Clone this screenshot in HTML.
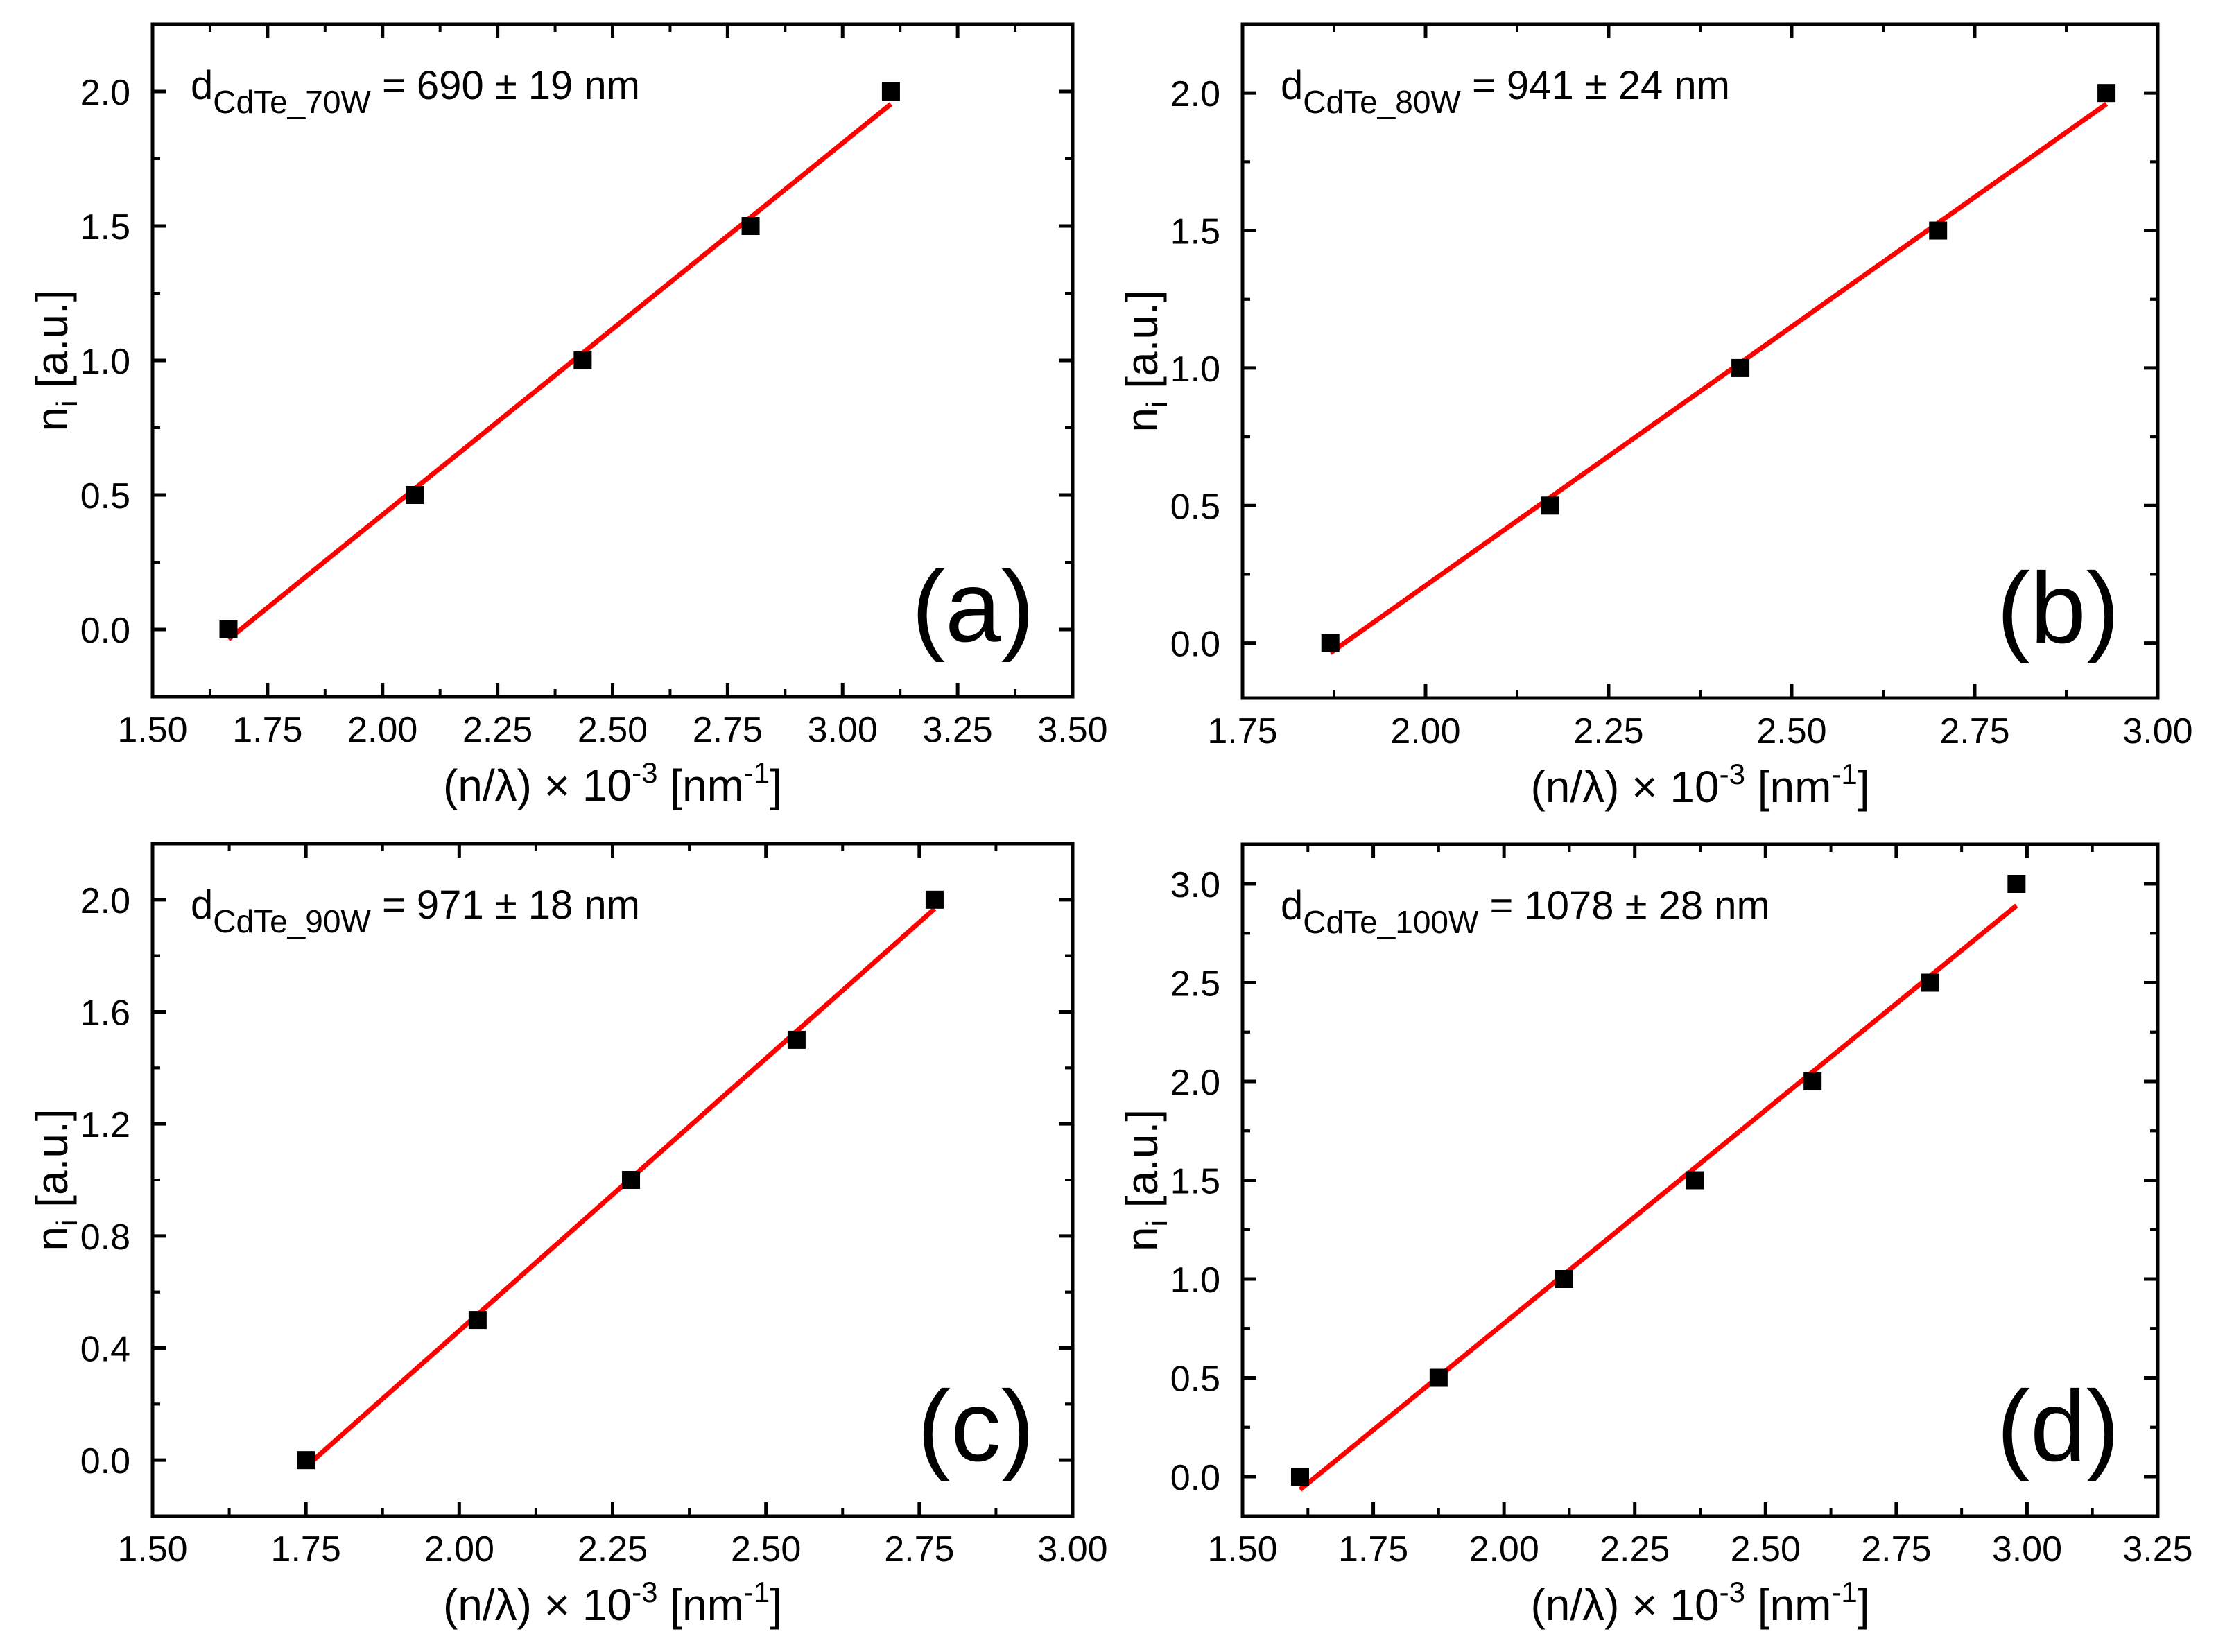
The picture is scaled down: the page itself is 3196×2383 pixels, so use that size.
<!DOCTYPE html>
<html><head><meta charset="utf-8"><style>
html,body{margin:0;padding:0;background:#fff}
svg{display:block}
text{font-family:"Liberation Sans",Arial,sans-serif;fill:#000}
</style></head><body>
<svg id="fig" width="3196" height="2383" viewBox="0 0 3196 2383" xmlns="http://www.w3.org/2000/svg"></svg>
<script>
// Panel data
const xA = [1.665, 2.07, 2.435, 2.80, 3.105];
const yA = [0, 0.5, 1.0, 1.5, 2.0];
const xB = [1.87, 2.17, 2.43, 2.70, 2.93];
const yB = [0, 0.5, 1.0, 1.5, 2.0];
const xC = [1.75, 2.03, 2.28, 2.55, 2.775];
const yC = [0, 0.5, 1.0, 1.5, 2.0];
const xD = [1.61, 1.875, 2.115, 2.365, 2.59, 2.815, 2.98];
const yD = [0, 0.5, 1.0, 1.5, 2.0, 2.5, 3.0];
const xTicksA = ["1.50","1.75","2.00","2.25","2.50","2.75","3.00","3.25","3.50"];
const yTicksA = ["0.0","0.5","1.0","1.5","2.0"];
const xTicksB = ["1.75","2.00","2.25","2.50","2.75","3.00"];
const yTicksB = ["0.0","0.5","1.0","1.5","2.0"];
const xTicksC = ["1.50","1.75","2.00","2.25","2.50","2.75","3.00"];
const yTicksC = ["0.0","0.4","0.8","1.2","1.6","2.0"];
const xTicksD = ["1.50","1.75","2.00","2.25","2.50","2.75","3.00","3.25"];
const yTicksD = ["0.0","0.5","1.0","1.5","2.0","2.5","3.0"];

const NS = "http://www.w3.org/2000/svg";
const svg = document.getElementById('fig');
function mk(tag, attrs, parent){
  const e = document.createElementNS(NS, tag);
  for (const k in attrs) e.setAttribute(k, attrs[k]);
  (parent||svg).appendChild(e);
  return e;
}
function linfit(xs, ys){
  const n = xs.length; let sx=0, sy=0, sxx=0, sxy=0;
  for (let i=0;i<n;i++){sx+=xs[i];sy+=ys[i];sxx+=xs[i]*xs[i];sxy+=xs[i]*ys[i];}
  const m=(n*sxy-sx*sy)/(n*sxx-sx*sx); return {m:m, b:(sy-m*sx)/n};
}
const panels = [
 {id:'a', L:220, R:1547, T:35, B:1005, xmin:1.5, xmax:3.5, ymin:-0.25, ymax:2.25, xs:xA, ys:yA, xt:xTicksA, yt:yTicksA, ymajor:0.5, label:'(a)', sub:'CdTe_70W', val:' = 690 ± 19 nm'},
 {id:'b', L:1792, R:3112, T:35, B:1007, xmin:1.75, xmax:3.0, ymin:-0.2, ymax:2.25, xs:xB, ys:yB, xt:xTicksB, yt:yTicksB, ymajor:0.5, label:'(b)', sub:'CdTe_80W', val:' = 941 ± 24 nm'},
 {id:'c', L:220, R:1547, T:1217, B:2187, xmin:1.5, xmax:3.0, ymin:-0.2, ymax:2.2, xs:xC, ys:yC, xt:xTicksC, yt:yTicksC, ymajor:0.4, label:'(c)', sub:'CdTe_90W', val:' = 971 ± 18 nm'},
 {id:'d', L:1792, R:3112, T:1218, B:2187, xmin:1.5, xmax:3.25, ymin:-0.2, ymax:3.2, xs:xD, ys:yD, xt:xTicksD, yt:yTicksD, ymajor:0.5, label:'(d)', sub:'CdTe_100W', val:' = 1078 ± 28 nm'}
];
panels.forEach(p=>{
  const g = mk('g',{});
  
  
  const X = v => p.L + (v-p.xmin)/(p.xmax-p.xmin)*(p.R-p.L);
  const Y = v => p.B - (v-p.ymin)/(p.ymax-p.ymin)*(p.B-p.T);
  const xmaj = 0.25;
  const x0 = parseFloat(p.xt[0]);
  for (let i=0;i<p.xt.length;i++){
    const v = x0 + i*xmaj, px = X(v);
    [[p.B, -20],[p.T, 20]].forEach(([yy,d])=>{
      const t = mk('line',{x1:px,x2:px,y1:yy,y2:yy+d,stroke:'#000','stroke-width':5},g);
      
      
    });
    if (i<p.xt.length-1){
      const pm = X(v+xmaj/2);
      [[p.B,-11],[p.T,11]].forEach(([yy,d])=>{
        const t = mk('line',{x1:pm,x2:pm,y1:yy,y2:yy+d,stroke:'#000','stroke-width':4},g);
        
        
      });
    }
    const tl = mk('text',{x:px,y:p.B+65,'font-size':52,'text-anchor':'middle'},g);
    tl.textContent = p.xt[i];
    
    
  }
  for (let i=0;i<p.yt.length;i++){
    const v = parseFloat(p.yt[i]), py = Y(v);
    [[p.L,20],[p.R,-20]].forEach(([xx,d])=>{
      const t = mk('line',{x1:xx,x2:xx+d,y1:py,y2:py,stroke:'#000','stroke-width':5},g);
      
      
    });
    [v-p.ymajor/2, v+p.ymajor/2].forEach(mv=>{
      if (mv<p.ymin || mv>p.ymax) return;
      const pm = Y(mv);
      [[p.L,11],[p.R,-11]].forEach(([xx,d])=>{
        const t = mk('line',{x1:xx,x2:xx+d,y1:pm,y2:pm,stroke:'#000','stroke-width':4},g);
        
        
      });
    });
    const tl = mk('text',{x:p.L-32,y:py+19,'font-size':52,'text-anchor':'end'},g);
    tl.textContent = p.yt[i];
    
    
  }
  const fr = mk('rect',{x:p.L,y:p.T,width:p.R-p.L,height:p.B-p.T,fill:'none',stroke:'#000','stroke-width':5},g);
  
  
  const f = linfit(p.xs,p.ys);
  const xa = p.xs[0], xb = p.xs[p.xs.length-1];
  const fl = mk('line',{x1:X(xa),y1:Y(f.m*xa+f.b),x2:X(xb),y2:Y(f.m*xb+f.b),stroke:'#ff0000','stroke-width':7},g);
  
  
  p.xs.forEach((xv,i)=>{
    const r = mk('rect',{x:X(xv)-13,y:Y(p.ys[i])-13,width:26,height:26,fill:'#000'},g);
    
    
  });
  const an = mk('text',{x:p.L+55,y:p.T+108,'font-size':58},g);
  
  
  const t1 = mk('tspan',{},an); t1.textContent='d';
  const t2 = mk('tspan',{'font-size':46,dy:20},an); t2.textContent=p.sub;
  const t3 = mk('tspan',{dy:-20},an); t3.textContent=p.val;
  const pl = mk('text',{x:p.R-55,y:p.B-80,'font-size':145,'text-anchor':'end'},g);
  pl.textContent = p.label;
  
  
  const xt = mk('text',{x:(p.L+p.R)/2,y:p.B+150,'font-size':64,'text-anchor':'middle'},g);
  
  
  const a1 = mk('tspan',{},xt); a1.textContent='(n/λ) × 10';
  const a2 = mk('tspan',{'font-size':42,dy:-26},xt); a2.textContent='-3';
  const a3 = mk('tspan',{dy:26},xt); a3.textContent=' [nm';
  const a4 = mk('tspan',{'font-size':42,dy:-26},xt); a4.textContent='-1';
  const a5 = mk('tspan',{dy:26},xt); a5.textContent=']';
  const cy = (p.T+p.B)/2;
  const yt = mk('text',{x:0,y:0,'font-size':64,'text-anchor':'middle',transform:`translate(${p.L-123},${cy}) rotate(-90)`},g);
  
  
  const b1 = mk('tspan',{},yt); b1.textContent='n';
  const b2 = mk('tspan',{'font-size':42,dy:14},yt); b2.textContent='i';
  const b3 = mk('tspan',{dy:-14},yt); b3.textContent=' [a.u.]';
});
</script>
</body></html>
